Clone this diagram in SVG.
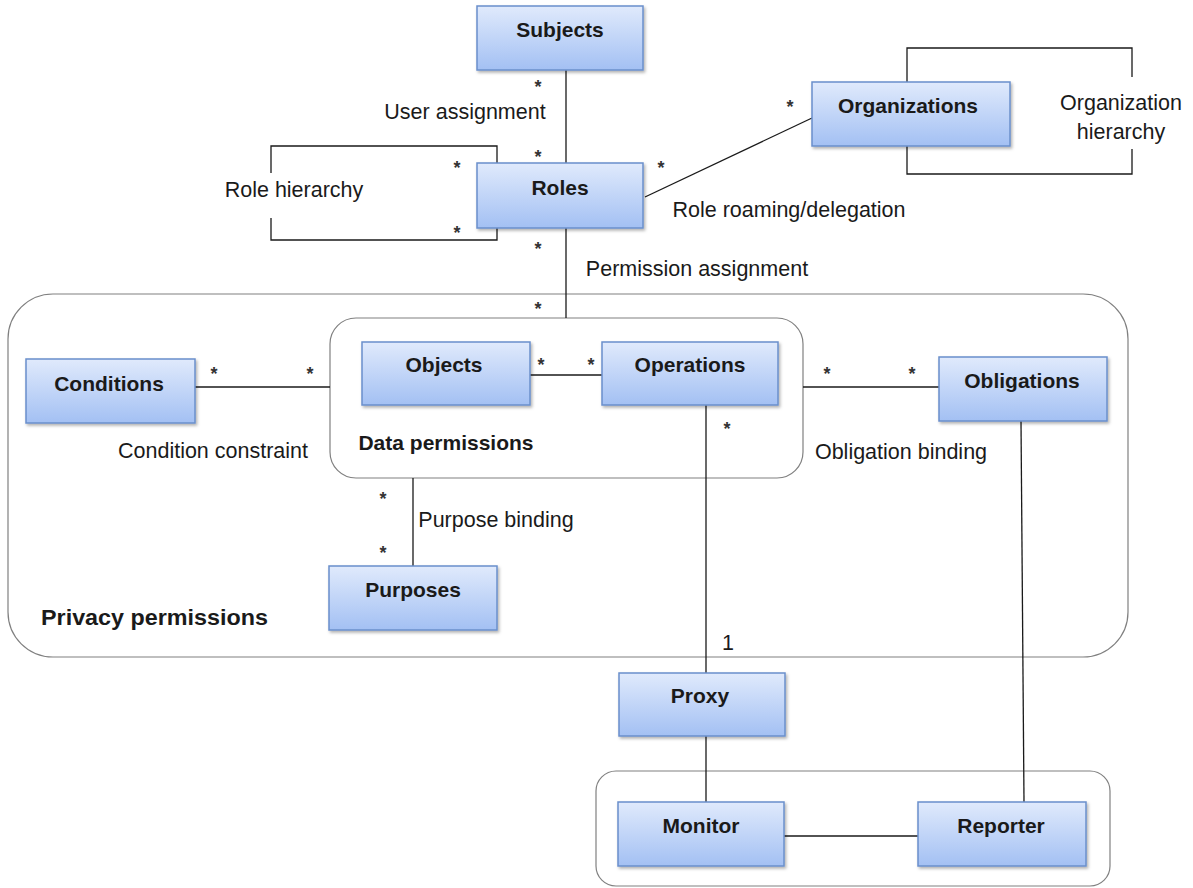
<svg xmlns="http://www.w3.org/2000/svg" width="1193" height="888" viewBox="0 0 1193 888">
<style>
.node{fill:url(#g);stroke:#6a8fcb;stroke-width:1.5;filter:url(#sh)}
.nt{font-family:"Liberation Sans",Arial,sans-serif;font-weight:bold;font-size:21px;fill:#1a1a1a;text-anchor:middle}
.lb{font-family:"Liberation Sans",Arial,sans-serif;font-size:21.5px;fill:#1a1a1a;text-anchor:middle}
.st{font-family:"Liberation Sans",Arial,sans-serif;font-size:18px;font-weight:bold;fill:#333;text-anchor:middle}
.ln{fill:none;stroke:#1a1a1a;stroke-width:1.3}
.ct{fill:none;stroke:#808080;stroke-width:1.2}
</style>
<defs>
<linearGradient id="g" x1="0" y1="0" x2="0" y2="1">
<stop offset="0" stop-color="#e0eafc"/>
<stop offset="1" stop-color="#a3c0f3"/>
</linearGradient>
<filter id="sh" x="-10%" y="-10%" width="125%" height="130%">
<feDropShadow dx="1.5" dy="2" stdDeviation="1.5" flood-color="#000" flood-opacity="0.3"/>
</filter>
</defs>
<rect width="1193" height="888" fill="#fff"/>
<g id="containers">
<rect id="privacy-permissions" class="ct" x="8" y="294" width="1120" height="363" rx="45"/>
<rect id="data-permissions" class="ct" x="330" y="318" width="473" height="160" rx="26"/>
<rect id="monitoring" class="ct" x="596" y="771" width="514" height="115" rx="20"/>
</g>
<g id="connectors">
<line class="ln" x1="566" y1="70" x2="566" y2="163"/>
<line class="ln" x1="566" y1="228" x2="566" y2="318"/>
<polyline class="ln" points="497,163 497,146 271,146 271,173"/>
<polyline class="ln" points="271,218 271,240 497,240 497,228"/>
<polyline class="ln" points="907,82 907,48 1132,48 1132,77"/>
<polyline class="ln" points="907,146 907,174 1132,174 1132,149"/>
<line class="ln" x1="645" y1="197" x2="812" y2="118"/>
<line class="ln" x1="195" y1="387" x2="330" y2="387"/>
<line class="ln" x1="530" y1="375" x2="602" y2="375"/>
<line class="ln" x1="803" y1="387" x2="939" y2="387"/>
<line class="ln" x1="413" y1="478" x2="413" y2="566"/>
<line class="ln" x1="706" y1="405" x2="706" y2="673"/>
<line class="ln" x1="706" y1="736" x2="706" y2="802"/>
<line class="ln" x1="1021" y1="421" x2="1024" y2="802"/>
<line class="ln" x1="784" y1="836" x2="918" y2="836"/>
</g>
<g id="labels">
<text class="st" x="538" y="93">*</text>
<text class="lb" x="465" y="119">User assignment</text>
<text class="st" x="538" y="163">*</text>
<text class="st" x="457" y="174">*</text>
<text class="st" x="457" y="239">*</text>
<text class="lb" x="294" y="197">Role hierarchy</text>
<text class="st" x="661" y="174">*</text>
<text class="lb" x="789" y="217">Role roaming/delegation</text>
<text class="st" x="790" y="113">*</text>
<text class="lb" x="1121" y="110">Organization</text>
<text class="lb" x="1121" y="139">hierarchy</text>
<text class="st" x="538" y="255">*</text>
<text class="lb" x="697" y="276">Permission assignment</text>
<text class="st" x="538" y="315">*</text>
<text class="st" x="214" y="380">*</text>
<text class="st" x="310" y="380">*</text>
<text class="lb" x="213" y="458">Condition constraint</text>
<text class="st" x="541" y="371">*</text>
<text class="st" x="591" y="371">*</text>
<text class="st" x="827" y="380">*</text>
<text class="st" x="912" y="380">*</text>
<text class="lb" x="901" y="459">Obligation binding</text>
<text class="st" x="727" y="435">*</text>
<text class="lb" x="728" y="650">1</text>
<text class="st" x="383" y="505">*</text>
<text class="lb" x="496" y="527">Purpose binding</text>
<text class="st" x="383" y="559">*</text>
<text class="nt" x="446" y="450">Data permissions</text>
<text class="nt" x="41" y="625" style="text-anchor:start;font-size:22px" textLength="227" lengthAdjust="spacingAndGlyphs">Privacy permissions</text>
</g>
<g id="subjects"><rect class="node" x="477" y="6" width="166" height="64"/><text class="nt" x="560" y="37">Subjects</text></g>
<g id="roles"><rect class="node" x="477" y="163" width="166" height="65"/><text class="nt" x="560" y="195">Roles</text></g>
<g id="organizations"><rect class="node" x="812" y="82" width="198" height="64"/><text class="nt" x="908" y="113">Organizations</text></g>
<g id="conditions"><rect class="node" x="26" y="359" width="169" height="64"/><text class="nt" x="109" y="391">Conditions</text></g>
<g id="objects"><rect class="node" x="362" y="342" width="168" height="63"/><text class="nt" x="444" y="372">Objects</text></g>
<g id="operations"><rect class="node" x="602" y="342" width="176" height="63"/><text class="nt" x="690" y="372">Operations</text></g>
<g id="obligations"><rect class="node" x="939" y="357" width="168" height="64"/><text class="nt" x="1022" y="388">Obligations</text></g>
<g id="purposes"><rect class="node" x="329" y="566" width="168" height="64"/><text class="nt" x="413" y="597">Purposes</text></g>
<g id="proxy"><rect class="node" x="619" y="673" width="166" height="63"/><text class="nt" x="700" y="703">Proxy</text></g>
<g id="monitor"><rect class="node" x="618" y="802" width="166" height="64"/><text class="nt" x="701" y="833">Monitor</text></g>
<g id="reporter"><rect class="node" x="918" y="802" width="168" height="64"/><text class="nt" x="1001" y="833">Reporter</text></g>
</svg>
